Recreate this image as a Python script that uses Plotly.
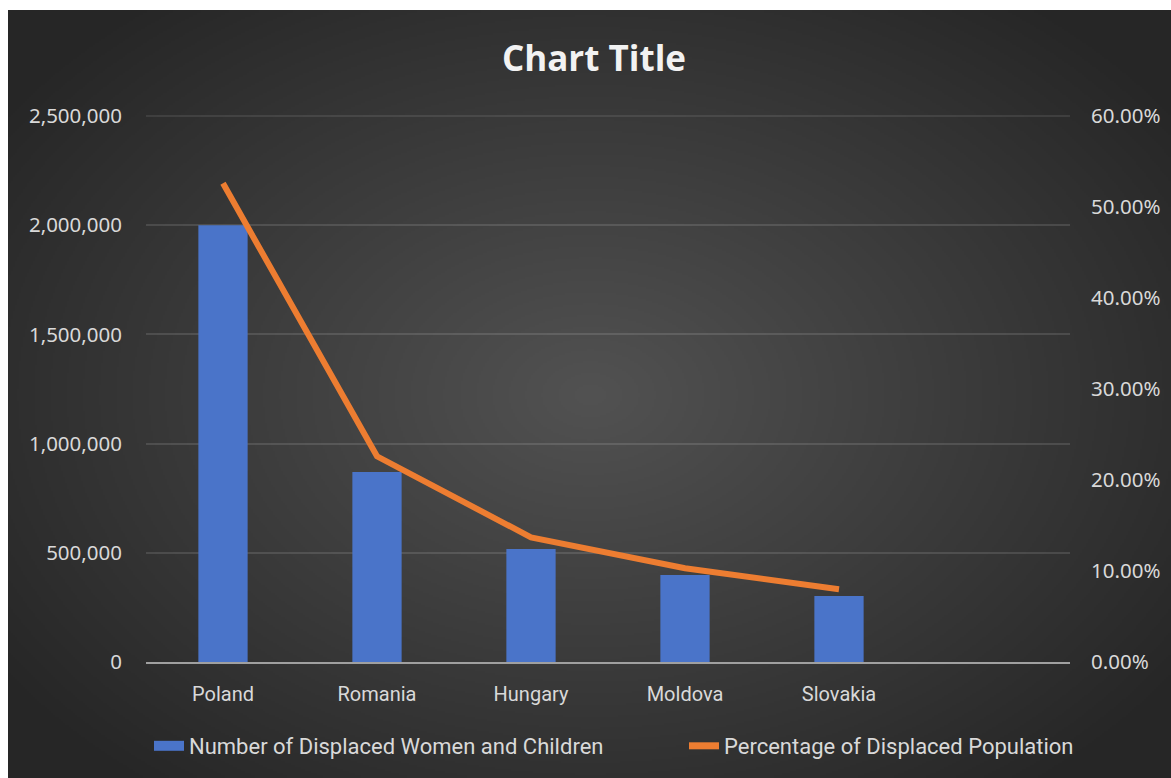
import base64
import struct
import zlib

import numpy as np
import plotly.graph_objects as go

# Data
countries = ["Poland", "Romania", "Hungary", "Moldova", "Slovakia", " "]
displaced_women_children = [2000000, 870000, 517000, 398000, 302000, None]
pct_displaced = [0.526, 0.226, 0.137, 0.103, 0.080, None]
left_ticks = [0, 500000, 1000000, 1500000, 2000000, 2500000]
right_ticks = [0, 0.1, 0.2, 0.3, 0.4, 0.5, 0.6]

BAR_NAME = "Number of Displaced Women and Children"
LINE_NAME = "Percentage of Displaced Population"
BAR_COLOR = "#4a74c9"
LINE_COLOR = "#ed7d31"
GRID_COLOR = "rgba(255,255,255,0.12)"

W, H = 1171, 778
L, R, T, B = 146, 101, 116, 116
PW, PH = W - L - R, H - T - B

# Radial gray background rendered into a small PNG
def radial_png(w, h):
    yy, xx = np.mgrid[0:h, 0:w].astype(float)
    cx, cy = w * 0.50, h * 0.50
    t = np.sqrt(((xx - cx) / (w * 0.62)) ** 2 + ((yy - cy) / (h * 0.66)) ** 2)
    t = np.clip(t, 0, 1)
    c = 0x52 + (0x26 - 0x52) * t
    img = np.repeat(c[:, :, None], 3, axis=2).astype(np.uint8)
    raw = b"".join(b"\x00" + img[r].tobytes() for r in range(h))

    def chunk(tag, data):
        return (struct.pack(">I", len(data)) + tag + data
                + struct.pack(">I", zlib.crc32(tag + data) & 0xFFFFFFFF))

    png = (b"\x89PNG\r\n\x1a\n"
           + chunk(b"IHDR", struct.pack(">IIBBBBB", w, h, 8, 2, 0, 0, 0))
           + chunk(b"IDAT", zlib.compress(raw, 9))
           + chunk(b"IEND", b""))
    return "data:image/png;base64," + base64.b64encode(png).decode()

bg_x0, bg_y0 = 8, 10
bg_w, bg_h = W - bg_x0, H - bg_y0
bg = radial_png(bg_w // 2, bg_h // 2)

text_col = "#d9d9d9"
tick_font = dict(family="Noto Sans, Open Sans, sans-serif", size=20.5, color=text_col)
cat_font = dict(family="Roboto, sans-serif", size=20, color=text_col)
legend_font = dict(family="Roboto, sans-serif", size=22, color=text_col)

fig = go.Figure()
fig.add_trace(go.Bar(
    x=countries, y=displaced_women_children,
    name=BAR_NAME,
    marker=dict(color=BAR_COLOR, line=dict(width=0)),
    showlegend=False,
    yaxis="y",
))
fig.add_trace(go.Scatter(
    x=countries, y=pct_displaced,
    name=LINE_NAME,
    mode="lines",
    line=dict(color=LINE_COLOR, width=6),
    showlegend=False,
    yaxis="y2",
))
# Legend entries: a wide flat swatch for the bars, a thick stroke for the line
fig.add_trace(go.Scatter(
    x=[None], y=[None], name=BAR_NAME, mode="lines",
    line=dict(color=BAR_COLOR, width=16), yaxis="y", legend="legend",
))
fig.add_trace(go.Scatter(
    x=[None], y=[None], name=LINE_NAME, mode="lines",
    line=dict(color=LINE_COLOR, width=7), yaxis="y2", legend="legend2",
))

legend_y = (PH - (746 - T)) / PH
legend_common = dict(
    orientation="h", xanchor="left", yanchor="middle", y=legend_y,
    font=legend_font, bgcolor="rgba(0,0,0,0)", itemwidth=30,
)

fig.update_layout(
    width=W, height=H,
    margin=dict(l=L, r=R, t=T, b=B, pad=0, autoexpand=False),
    paper_bgcolor="white",
    plot_bgcolor="rgba(0,0,0,0)",
    bargap=0.68,
    title=dict(
        text="<b>Chart Title</b>",
        x=594 / W, xanchor="center",
        y=1 - 59 / H, yanchor="middle",
        font=dict(family="Open Sans, sans-serif", size=35, color="#f2f2f2"),
    ),
    xaxis=dict(
        type="category",
        range=[-0.5, 5.5],
        showgrid=False,
        showline=True, linecolor="#a0a0a0", linewidth=2,
        ticks="", ticklabelstandoff=13,
        tickfont=cat_font,
        zeroline=False,
    ),
    yaxis=dict(
        range=[0, 2500000],
        tickvals=left_ticks,
        tickformat=",d",
        showgrid=True, gridcolor=GRID_COLOR, gridwidth=1.5,
        zeroline=False, showline=False,
        ticks="", ticklabelstandoff=23,
        tickfont=tick_font,
    ),
    yaxis2=dict(
        range=[0, 0.6],
        tickvals=right_ticks,
        tickformat=".2%",
        overlaying="y", side="right",
        showgrid=False, zeroline=False, showline=False,
        ticks="", ticklabelstandoff=20,
        tickfont=tick_font,
    ),
    legend=dict(legend_common, x=(149 - L) / PW),
    legend2=dict(legend_common, x=(684 - L) / PW),
    shapes=[dict(
        type="line", xref="paper", yref="paper",
        x0=0, x1=1, y0=1, y1=1,
        line=dict(color=GRID_COLOR, width=1.5), layer="below",
    )],
    images=[dict(
        source=bg, xref="paper", yref="paper",
        x=(bg_x0 - L) / PW, y=(PH + T - bg_y0) / PH,
        sizex=bg_w / PW, sizey=bg_h / PH,
        xanchor="left", yanchor="top",
        sizing="stretch", layer="below",
    )],
)

fig.write_html("out.html")
